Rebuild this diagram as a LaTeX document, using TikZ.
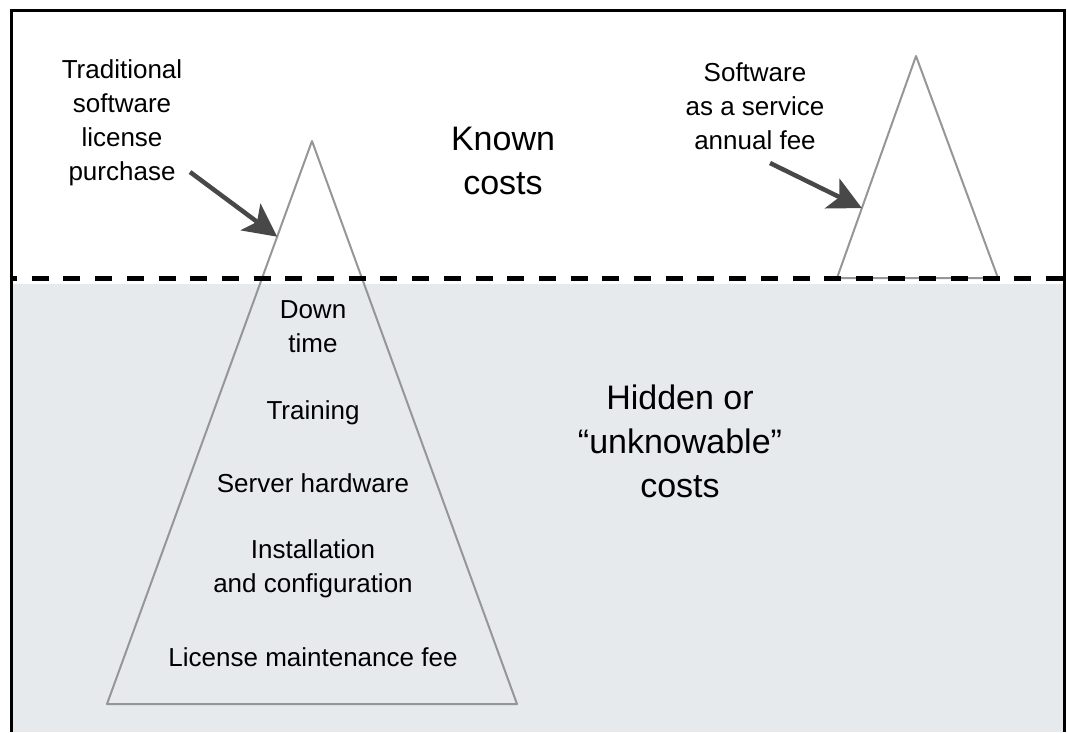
\documentclass[tikz,border=0pt]{standalone}
\usepackage{fontspec}
\setmainfont{Liberation Sans}
\usetikzlibrary{calc,arrows.meta}
\definecolor{SeaGrey}{RGB}{231,234,237}
\definecolor{BergEdge}{RGB}{150,150,150}
\definecolor{PointerGrey}{RGB}{72,72,72}

\begin{document}
\begin{tikzpicture}[x=1pt, y=-1pt,
  every node/.style={align=center, inner sep=0pt},
  cost/.style={font=\fontsize{26}{34}\selectfont},
  heading/.style={font=\fontsize{34}{44}\selectfont},
  berg/.style={draw=BergEdge, line width=2pt, line join=round},
  pointer/.style={draw=PointerGrey, line width=4.5pt,
    -{Stealth[length=33pt, width=33pt, inset=8pt]}}]
  \useasboundingbox (0,0) rectangle (1067,732);

  % water below the line
  \fill[SeaGrey] (12,284) rectangle (1063,732);

  % the two icebergs
  \coordinate (bigtop) at (312,141);
  \coordinate (bigleft) at (107,704);
  \coordinate (bigright) at (517,704);
  \draw[berg] (bigtop) -- (bigright) -- (bigleft) -- cycle;
  \coordinate (smalltop) at (916,56);
  \coordinate (smallleft) at (837,278);
  \coordinate (smallright) at (998,278);
  \draw[berg] (smalltop) -- (smallright) -- (smallleft) -- cycle;

  % waterline
  \draw[line width=5.5pt, dash pattern=on 17pt off 14.7pt, dash phase=11pt]
    (11,278.5) -- (1064,278.5);

  % frame, open at the bottom
  \draw[line width=3pt] (11,732) -- (11,10) -- (1064,10) -- (1064,732);

  % labels above the water
  \node[cost] (license) at (122,123) {Traditional\\software\\license\\purchase};
  \node[cost] (saas) at (755,106) {Software\\as a service\\annual fee};
  \node[heading] (known) at (503,161) {Known\\costs};

  % what sits under the water
  \node[cost] (downtime) at (313,327) {Down\\time};
  \node[cost] (training) at (313,413) {Training};
  \node[cost] (server) at (313,483) {Server hardware};
  \node[cost] (install) at (313,569) {Installation\\and configuration};
  \node[cost] (maint) at (313,657) {License maintenance fee};
  \node[heading] (hidden) at (680,441) {Hidden or\\``unknowable''\\costs};

  % pointers onto the iceberg tips
  \coordinate (licensetail) at (190,172);
  \coordinate (licensetip) at ($(bigtop)!0.17!(bigleft)$);
  \draw[pointer] (licensetail) -- (licensetip);
  \coordinate (saastail) at (770,163);
  \coordinate (saastip) at ($(smalltop)!0.685!(smallleft)$);
  \draw[pointer] (saastail) -- (saastip);
\end{tikzpicture}
\end{document}
